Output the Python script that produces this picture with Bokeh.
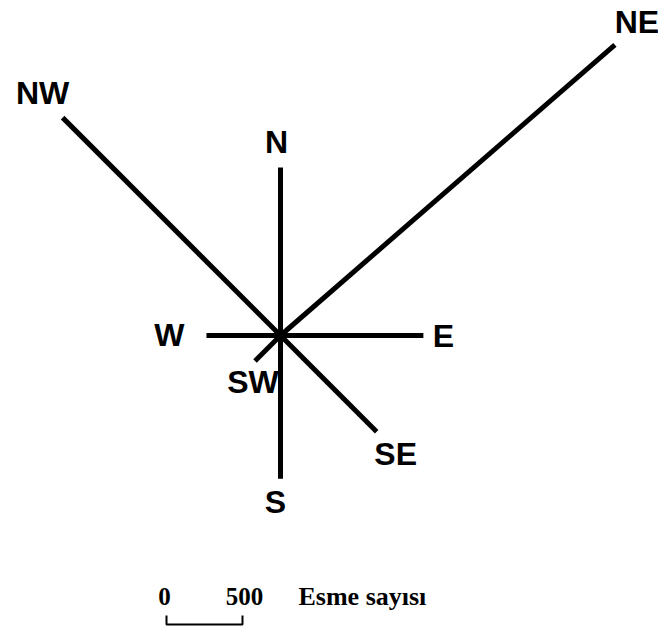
import numpy as np
from bokeh.plotting import figure
from bokeh.models import Range1d, ColumnDataSource
from bokeh.core.properties import value
from bokeh.embed import file_html
from bokeh.resources import INLINE

# --- data ---
directions = ["N", "NE", "E", "SE", "S", "SW", "W", "NW"]
counts = [1105, 2915, 940, 895, 940, 237, 487, 2027]
angles_deg = [90, 41, 0, -45, -90, -135, 180, 135]
scale_value = 500
scale_labels = ["0", "500"]
legend_title = "Esme sayısı"

# --- layout / style ---
W, H = 658, 626
k = 76 / scale_value          # pixels per unit
cx, cy = 280, 335             # centre in figure pixels (from top-left)
label_dx = [-4, 22, 20, 19, -5, -2, -37, -20]
label_dy = [-26, -23, 0, 22, 24, 21, -1, -25]

p = figure(width=W, height=H, output_backend="svg", toolbar_location=None,
           min_border=0, outline_line_color=None)
p.x_range = Range1d(-cx / k, (W - cx) / k)
p.y_range = Range1d(-(H - cy) / k, cy / k)
p.axis.visible = False
p.grid.visible = False
p.background_fill_color = "white"
p.border_fill_color = "white"

ang = np.radians(angles_deg)
ex = np.array(counts) * np.cos(ang)
ey = np.array(counts) * np.sin(ang)

p.segment(x0=[0] * len(counts), y0=[0] * len(counts), x1=ex, y1=ey,
          line_color="black", line_width=5, line_cap="butt")

src = ColumnDataSource(dict(x=ex, y=ey, t=directions, dx=label_dx, dy=label_dy))
p.text(x="x", y="y", text="t", x_offset="dx", y_offset="dy", source=src,
       text_font=value("Liberation Sans"), text_font_style="bold",
       text_font_size="32px", text_align="center", text_baseline="middle",
       text_color="black")

# redraw S line over SW label (as in reference)
p.segment(x0=[0], y0=[0], x1=[ex[4]], y1=[ey[4]], line_color="black",
          line_width=5, line_cap="butt")

# --- scale bar ---
bx0 = (166 - cx) / k
bx1 = bx0 + scale_value
by = -(624 - cy) / k
th = 9 / k
p.line(x=[bx0, bx0, bx1, bx1], y=[by + th, by, by, by + th],
       line_color="black", line_width=2)
tm = -(596 - cy) / k
p.text(x=[bx0 - 2 / k, bx1 + 2 / k], y=[tm, tm], text=scale_labels,
       text_font=value("Liberation Serif"), text_font_style="bold",
       text_font_size="25px", text_align="center", text_baseline="middle",
       text_color="black")
p.text(x=[(298 - cx) / k], y=[tm], text=[legend_title],
       text_font=value("Liberation Serif"), text_font_style="bold",
       text_font_size="26px", text_align="left", text_baseline="middle",
       text_color="black")

open("out.html", "w").write(file_html(p, INLINE))
